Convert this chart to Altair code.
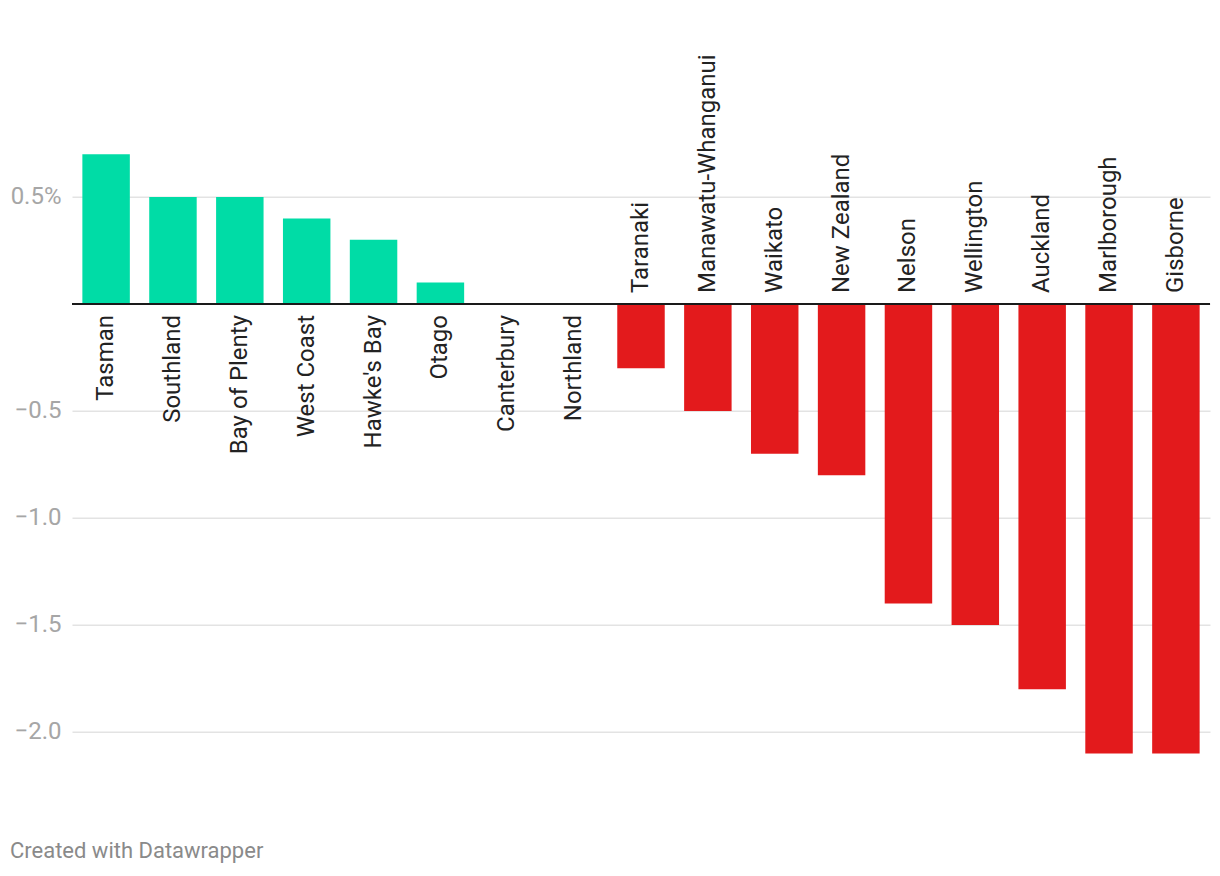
import altair as alt
import pandas as pd

regions = ["Tasman", "Southland", "Bay of Plenty", "West Coast", "Hawke's Bay",
           "Otago", "Canterbury", "Northland", "Taranaki", "Manawatu-Whanganui",
           "Waikato", "New Zealand", "Nelson", "Wellington", "Auckland",
           "Marlborough", "Gisborne"]
values = [0.7, 0.5, 0.5, 0.4, 0.3, 0.1, 0.0, 0.0, -0.3, -0.5, -0.7, -0.8,
          -1.4, -1.5, -1.8, -2.1, -2.1]
y_ticks = [-2.0, -1.5, -1.0, -0.5, 0.0, 0.5]
footer = ["Created with Datawrapper"]

GREEN = "#00dca6"
RED = "#e31a1c"
FONT = "Roboto"

df = pd.DataFrame({"region": regions, "value": values})

xenc = alt.X("region:N", sort=regions,
             scale=alt.Scale(paddingInner=0.29, paddingOuter=0.155), axis=None)
yscale = alt.Scale(domain=[-2.2, 0.8], nice=False, zero=False)

base = alt.Chart(df)

bars = base.mark_bar().encode(
    x=xenc,
    y=alt.Y("value:Q", scale=yscale,
            axis=alt.Axis(values=y_ticks,
                          labelExpr="datum.value == 0.5 ? '0.5%' : (datum.value == 0 ? '' : format(datum.value, '.1f'))",
                          grid=True, gridColor="#e3e3e3", gridWidth=1.5,
                          domain=False, ticks=False, labelPadding=11,
                          labelFontSize=24, labelColor="#a6a6a6",
                          labelFont=FONT, title=None)),
    color=alt.condition("datum.value >= 0", alt.value(GREEN), alt.value(RED)),
)

zero = alt.Chart(pd.DataFrame({"z": [0]})).mark_rule(color="#1a1a1a", strokeWidth=2).encode(
    y=alt.Y("z:Q", scale=yscale)
)

pos_labels = base.transform_filter("datum.value >= 0").mark_text(
    angle=270, align="right", baseline="middle", dx=-11,
    fontSize=24, font=FONT, color="#222222"
).encode(x=xenc, y=alt.datum(0), text="region:N")

neg_labels = base.transform_filter("datum.value < 0").mark_text(
    angle=270, align="left", baseline="middle", dx=11,
    fontSize=24, font=FONT, color="#222222"
).encode(x=xenc, y=alt.datum(0), text="region:N")

foot = alt.Chart(pd.DataFrame({"t": footer})).mark_text(
    align="left", baseline="alphabetic", fontSize=22, font=FONT, color="#8a8a8a"
).encode(x=alt.value(-62), y=alt.value(725), text="t:N")

chart = alt.layer(bars, zero, pos_labels, neg_labels, foot).properties(
    width=1138, height=642,
    autosize=alt.AutoSizeParams(type="none"),
    padding={"left": 64, "top": 124.8, "right": 2, "bottom": 90},
).configure_view(stroke=None)

chart.save("out.html", embed_options={"renderer": "svg", "actions": False})
